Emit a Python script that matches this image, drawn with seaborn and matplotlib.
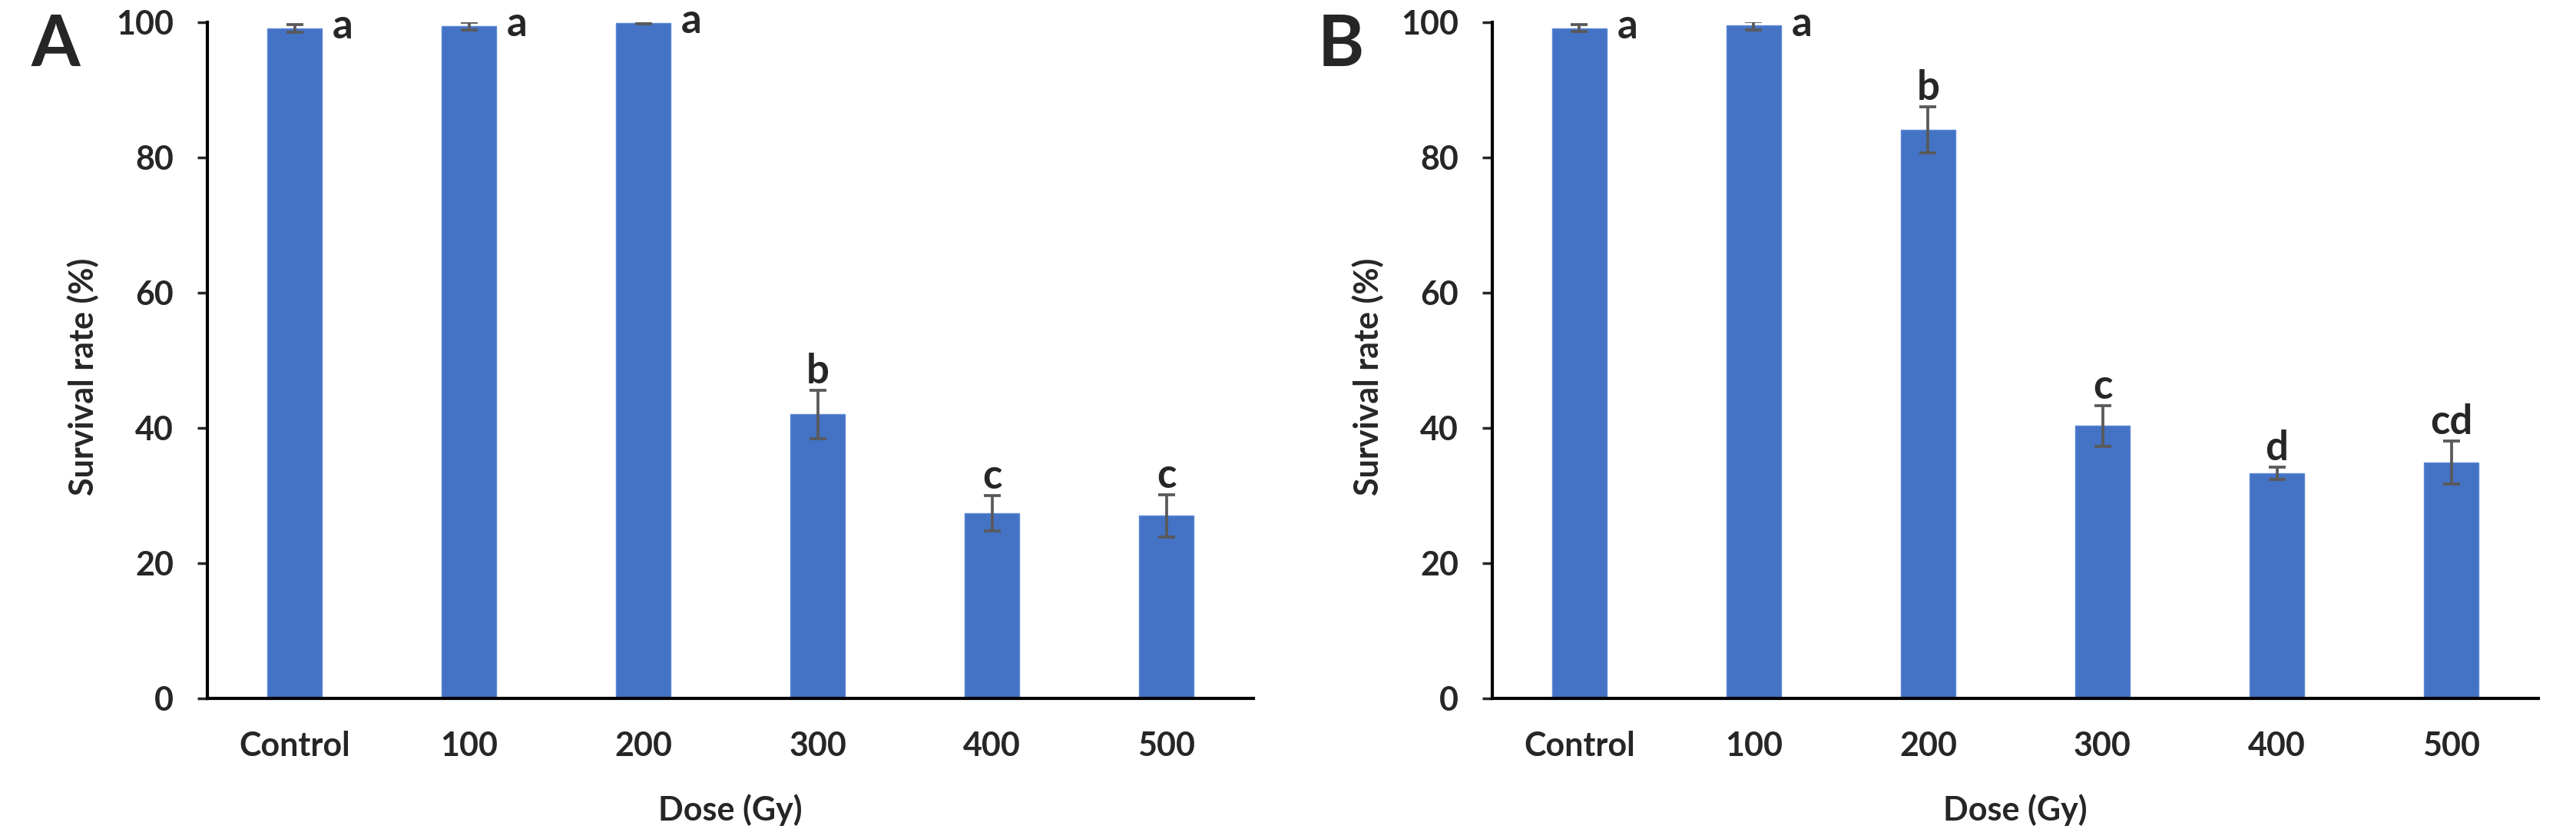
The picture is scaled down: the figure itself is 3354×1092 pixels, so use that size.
import numpy as np
import pandas as pd
import seaborn as sns
import matplotlib.pyplot as plt

### Data ###########################################################################
doses = ["Control", "100", "200", "300", "400", "500"]

survival_a = [99.05, 99.4, 99.9, 42.0, 27.4, 27.0]
err_a = [0.55, 0.55, 0.1, 3.6, 2.6, 3.1]
letters_a = ["a", "a", "a", "b", "c", "c"]

survival_b = [99.1, 99.5, 84.1, 40.3, 33.3, 34.9]
err_b = [0.5, 0.6, 3.4, 3.0, 0.9, 3.2]
letters_b = ["a", "a", "b", "c", "d", "cd"]

### Style ##########################################################################
sns.set_theme(style="white")
plt.rcParams['font.family'] = ['Lato', 'DejaVu Sans']
plt.rcParams['font.weight'] = 'bold'

bar_color = "#4472C4"
err_color = "#595959"

fig = plt.figure(figsize=(33.54, 10.92), dpi=100)
ax_a = fig.add_axes([0.0805, 0.1676, 0.4061, 0.8059])
ax_b = fig.add_axes([0.5793, 0.1676, 0.4061, 0.8059])


def draw_panel(ax, values, errs, letters, tag):
    df = pd.DataFrame({"dose": doses, "survival": values})
    sns.barplot(data=df, x="dose", y="survival", order=doses, color=bar_color,
                width=0.31, errorbar=None, saturation=1, ax=ax,
                edgecolor="#5B87D6", linewidth=1)
    xs = np.arange(len(doses))
    ax.errorbar(xs, values, yerr=errs, fmt="none", ecolor=err_color,
                elinewidth=2.7, capsize=8, capthick=2.7)

    # significance letters
    for x, v, e, s in zip(xs, values, errs, letters):
        if v + e > 95:
            ax.text(x + 0.215, v - 1.5, s, ha="left", va="baseline",
                    fontsize=38, fontweight="bold")
        else:
            ax.text(x, v + e + 1.0, s, ha="center", va="baseline",
                    fontsize=38, fontweight="bold")

    ax.set_ylim(0, 100)
    ax.set_xlim(-0.5, 5.5)
    ax.set_yticks([0, 20, 40, 60, 80, 100])
    ax.set_xlabel("Dose (Gy)", fontsize=31, fontweight="bold", labelpad=31)
    ax.set_ylabel("Survival rate (%)", fontsize=31, fontweight="bold", va="center")
    ax.yaxis.set_label_coords(-0.119, 0.476)

    for side in ["top", "right"]:
        ax.spines[side].set_visible(False)
    for side in ["left", "bottom"]:
        ax.spines[side].set_linewidth(3)
        ax.spines[side].set_color("black")

    ax.tick_params(axis="y", which="major", left=True, length=9.5, width=2.5,
                   pad=22, labelsize=31, direction="out")
    ax.tick_params(axis="x", which="major", bottom=False, length=0,
                   pad=30, labelsize=31)
    for lab in ax.get_xticklabels() + ax.get_yticklabels():
        lab.set_fontweight("bold")

    ax.text(-0.145, 0.965, tag, transform=ax.transAxes, fontsize=66,
            fontweight="bold", ha="center", va="center")


draw_panel(ax_a, survival_a, err_a, letters_a, "A")
draw_panel(ax_b, survival_b, err_b, letters_b, "B")

plt.savefig("out.png", dpi=100)
